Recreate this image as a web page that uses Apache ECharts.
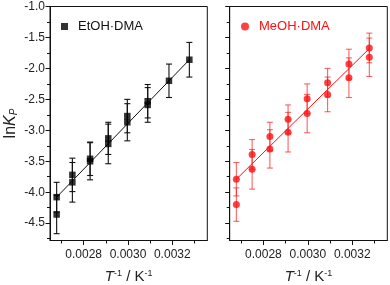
<!DOCTYPE html>
<html><head><meta charset="utf-8">
<script src="https://cdn.jsdelivr.net/npm/echarts@6/dist/echarts.min.js"></script>
<style>html,body{margin:0;padding:0;background:#fff}#c{width:390px;height:285px}</style>
</head><body><div id="c"></div>
<script>
// ---- data ----
var etohX = [0.002678,0.002678,0.002749,0.002749,0.002829,0.002829,0.002911,0.002911,0.002997,0.002997,0.003089,0.003089,0.003185,0.003277];
var etohY = [-4.08,-4.36,-3.72,-3.84,-3.46,-3.50,-3.13,-3.22,-2.77,-2.87,-2.53,-2.59,-2.20,-1.86];
var etohErr = [0.24,0.31,0.27,0.32,0.27,0.30,0.26,0.32,0.27,0.30,0.27,0.28,0.27,0.28];

var meohX = [0.002678,0.002678,0.002749,0.002749,0.002829,0.002829,0.002911,0.002911,0.002997,0.002997,0.003089,0.003089,0.003185,0.003185,0.003277,0.003277];
var meohY = [-3.79,-4.20,-3.39,-3.63,-3.10,-3.30,-2.82,-3.03,-2.49,-2.73,-2.23,-2.42,-1.93,-2.15,-1.67,-1.82];
var meohErr = [0.27,0.27,0.24,0.32,0.23,0.31,0.23,0.32,0.24,0.31,0.23,0.28,0.24,0.32,0.24,0.31];

var etohFitX = [0.002678, 0.003277];
var etohFitY = [-4.08, -1.86];
var meohFitX = [0.002678, 0.003277];
var meohFitY = [-3.79, -1.68];

var xMajor = [0.0028, 0.0030, 0.0032];
var xMinor = [0.0027, 0.0029, 0.0031, 0.0033];
var yMajor = [-4.5, -4.0, -3.5, -3.0, -2.5, -2.0, -1.5, -1.0];
var yMinor = [-4.75, -4.25, -3.75, -3.25, -2.75, -2.25, -1.75, -1.25];
var xRange = [0.002648, 0.003358];
var yRange = [-4.78, -1.0];
var names = ['EtOH·DMA', 'MeOH·DMA'];

// ---- build ----
function zip(a, b) { return a.map(function (v, i) { return [v, b[i]]; }); }
function errData(x, y, e) { return x.map(function (v, i) { return [v, y[i] - e[i], y[i] + e[i]]; }); }
var FONT = 'Liberation Sans, Arial, sans-serif';
var AX = '#111';

function errSeries(data, xi, yi, color) {
  return {
    type: 'custom', xAxisIndex: xi, yAxisIndex: yi, z: 2, silent: true,
    data: data,
    encode: { x: 0, y: [1, 2] },
    renderItem: function (params, api) {
      var x = api.value(0);
      var top = api.coord([x, api.value(2)]);
      var bot = api.coord([x, api.value(1)]);
      var w = 3;
      var st = { stroke: color, lineWidth: 1.1 };
      return { type: 'group', children: [
        { type: 'line', shape: { x1: top[0], y1: top[1], x2: bot[0], y2: bot[1] }, style: st },
        { type: 'line', shape: { x1: top[0] - w, y1: top[1], x2: top[0] + w, y2: top[1] }, style: st },
        { type: 'line', shape: { x1: bot[0] - w, y1: bot[1], x2: bot[0] + w, y2: bot[1] }, style: st }
      ]};
    }
  };
}

function mainX(gi) {
  return {
    type: 'value', gridIndex: gi, position: 'bottom', min: xRange[0], max: xRange[1],
    axisLine: { show: true, lineStyle: { color: AX, width: 1 } },
    axisTick: { show: true, inside: false, length: 4.5, customValues: xMajor, lineStyle: { color: AX } },
    axisLabel: { show: true, customValues: xMajor, margin: 8, color: '#222', fontSize: 12, fontFamily: FONT,
      formatter: function (v) { return v.toFixed(4); } },
    splitLine: { show: false },
    name: '{t|T}{s|-1}{n| / K}{s|-1}',
    nameLocation: 'middle', nameGap: 29,
    nameTextStyle: { fontFamily: FONT, fontSize: 15, color: '#222',
      rich: {
        t: { fontStyle: 'italic', fontSize: 15, fontFamily: FONT, color: '#222' },
        n: { fontSize: 15, fontFamily: FONT, color: '#222' },
        s: { fontSize: 9, fontFamily: FONT, color: '#222', verticalAlign: 'top', padding: [0, 0, 6, 0] }
      } }
  };
}
function minorX(gi) {
  return {
    type: 'value', gridIndex: gi, position: 'bottom', min: xRange[0], max: xRange[1],
    axisLine: { show: false },
    axisTick: { show: true, inside: false, length: 3, customValues: xMinor, lineStyle: { color: AX } },
    axisLabel: { show: false }, splitLine: { show: false }
  };
}
function mainY(gi, showLabels) {
  var ax = {
    type: 'value', gridIndex: gi, position: 'left', min: yRange[0], max: yRange[1],
    axisLine: { show: true, lineStyle: { color: AX, width: 1 } },
    axisTick: { show: true, inside: false, length: 4.5, customValues: yMajor, lineStyle: { color: AX } },
    axisLabel: { show: showLabels, customValues: yMajor, margin: 5, color: '#222', fontSize: 12, fontFamily: FONT,
      formatter: function (v) { return v.toFixed(1); } },
    splitLine: { show: false }
  };
  if (showLabels) {
    ax.name = '{n|ln}{k|K}{p|P}';
    ax.nameLocation = 'middle';
    ax.nameGap = 31;
    ax.nameRotate = 90;
    ax.nameTextStyle = { fontFamily: FONT, fontSize: 16, color: '#222',
      rich: {
        n: { fontSize: 16, fontFamily: FONT, color: '#222' },
        k: { fontSize: 16, fontStyle: 'italic', fontFamily: FONT, color: '#222' },
        p: { fontSize: 10, fontStyle: 'italic', fontFamily: FONT, color: '#222', verticalAlign: 'bottom', padding: [6, 0, 0, 0] }
      } };
  }
  return ax;
}
function minorY(gi) {
  return {
    type: 'value', gridIndex: gi, position: 'left', min: yRange[0], max: yRange[1],
    axisLine: { show: false },
    axisTick: { show: true, inside: false, length: 3, customValues: yMinor, lineStyle: { color: AX } },
    axisLabel: { show: false }, splitLine: { show: false }
  };
}

var option = {
  animation: false,
  backgroundColor: '#fff',
  grid: [
    { left: 50, top: 6.5, width: 157.3, height: 234, show: true, borderColor: AX, borderWidth: 1, backgroundColor: 'transparent', outerBoundsMode: 'none', containLabel: false },
    { left: 229.7, top: 6.5, width: 157.6, height: 234, show: true, borderColor: AX, borderWidth: 1, backgroundColor: 'transparent', outerBoundsMode: 'none', containLabel: false }
  ],
  xAxis: [ mainX(0), minorX(0), mainX(1), minorX(1) ],
  yAxis: [ mainY(0, true), minorY(0), mainY(1, false), minorY(1) ],
  legend: [
    { data: [{ name: names[0], icon: 'rect' }], left: 56, top: 15, itemWidth: 7, itemHeight: 7, itemGap: 0,
      textStyle: { fontSize: 13, fontFamily: FONT, color: '#111', padding: [0, 0, 0, 5] } },
    { data: [{ name: names[1], icon: 'circle' }], left: 236, top: 15, itemWidth: 8, itemHeight: 8, itemGap: 0,
      textStyle: { fontSize: 13, fontFamily: FONT, color: '#ff1010', padding: [0, 0, 0, 5] } }
  ],
  series: [
    errSeries(errData(etohX, etohY, etohErr), 0, 0, '#111'),
    { type: 'line', xAxisIndex: 0, yAxisIndex: 0, data: zip(etohFitX, etohFitY), symbol: 'none', z: 3, silent: true,
      lineStyle: { color: '#111', width: 1 } },
    { name: names[0], type: 'scatter', xAxisIndex: 0, yAxisIndex: 0, data: zip(etohX, etohY), symbol: 'rect', symbolSize: 6.5, z: 4,
      itemStyle: { color: '#000' } },
    errSeries(errData(meohX, meohY, meohErr), 2, 2, 'rgba(255,30,30,0.7)'),
    { type: 'line', xAxisIndex: 2, yAxisIndex: 2, data: zip(meohFitX, meohFitY), symbol: 'none', z: 3, silent: true,
      lineStyle: { color: '#ff1010', width: 1 } },
    { name: names[1], type: 'scatter', xAxisIndex: 2, yAxisIndex: 2, data: zip(meohX, meohY), symbol: 'circle', symbolSize: 7, z: 4,
      itemStyle: { color: '#ff1010' } }
  ]
};
var chart = echarts.init(document.getElementById('c'), null, { renderer: 'canvas' });
chart.setOption(option);
</script></body></html>
